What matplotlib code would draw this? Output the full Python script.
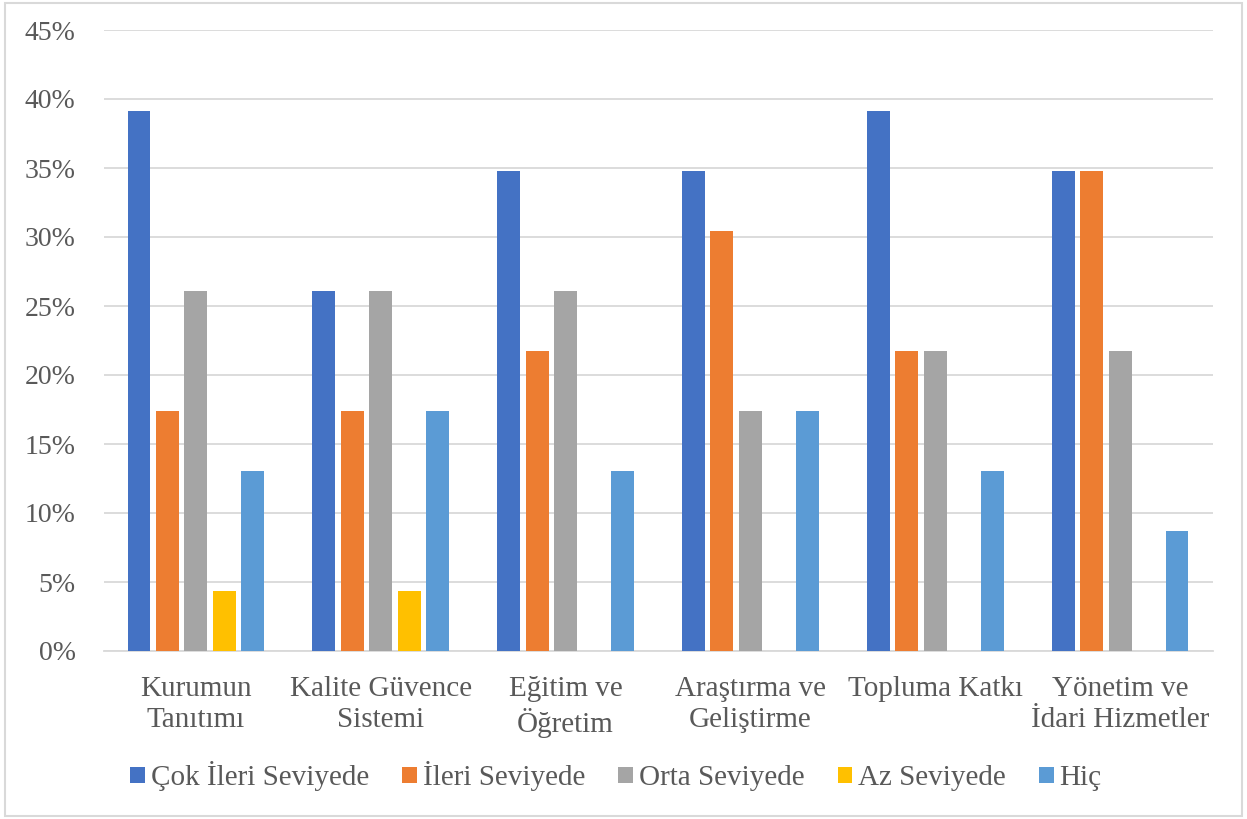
import matplotlib.pyplot as plt
import numpy as np
from matplotlib.ticker import PercentFormatter

categories = ['Kurumun\nTanıtımı', 'Kalite Güvence\nSistemi', 'Eğitim ve\nÖğretim',
              'Araştırma ve\nGeliştirme', 'Topluma Katkı', 'Yönetim ve\nİdari Hizmetler']
series = ['Çok İleri Seviyede', 'İleri Seviyede', 'Orta Seviyede', 'Az Seviyede', 'Hiç']
cok_ileri = [39.13, 26.09, 34.78, 34.78, 39.13, 34.78]
ileri = [17.39, 17.39, 21.74, 30.43, 21.74, 34.78]
orta = [26.09, 26.09, 26.09, 17.39, 21.74, 21.74]
az = [4.35, 4.35, 0, 0, 0, 0]
hic = [13.04, 17.39, 13.04, 17.39, 13.04, 8.70]
colors = ['#4472C4', '#ED7D31', '#A5A5A5', '#FFC000', '#5B9BD5']

plt.rcParams['font.family'] = ['Liberation Serif', 'DejaVu Serif']
txt = '#595959'

fig = plt.figure(figsize=(12.47, 8.19), dpi=100)
ax = fig.add_axes([103.5/1247, 1-651/819, 1109/1247, 621/819])

x = np.arange(len(categories))
step = 0.154
width = 0.124
for i, (vals, name) in enumerate(zip([cok_ileri, ileri, orta, az, hic], series)):
    ax.bar(x + (i-2)*step, vals, width, color=colors[i], label=name, zorder=3)

ax.set_xlim(-0.5, len(categories)-0.5)
ax.set_ylim(0, 45)
ax.set_yticks(np.arange(0, 46, 5))
ax.yaxis.set_major_formatter(PercentFormatter(decimals=0))
ax.grid(axis='y', color='#D9D9D9', linewidth=1.3, zorder=0)
for s in ['top', 'right', 'left']:
    ax.spines[s].set_visible(False)
ax.spines['bottom'].set_color('#D9D9D9')
ax.spines['bottom'].set_linewidth(1.3)
ax.tick_params(axis='both', length=0, colors=txt)
ax.tick_params(axis='y', pad=20, labelsize=20)
ax.set_xticks(x)
ax.set_xticklabels(categories, linespacing=1.25, fontsize=21)
ax.tick_params(axis='x', pad=18)

leg = fig.legend(loc='center', bbox_to_anchor=(616/1247, 1-776/819), ncol=5, frameon=False,
                 fontsize=21, handlelength=0.5, handleheight=0.48, handletextpad=0.2,
                 columnspacing=1.14)
for t in leg.get_texts():
    t.set_color(txt)

fig.patches.append(plt.Rectangle((0.004, 0.004), 0.992, 0.992, transform=fig.transFigure,
                                 fill=False, edgecolor='#D9D9D9', linewidth=1.5))

plt.savefig('out.png', dpi=100)
